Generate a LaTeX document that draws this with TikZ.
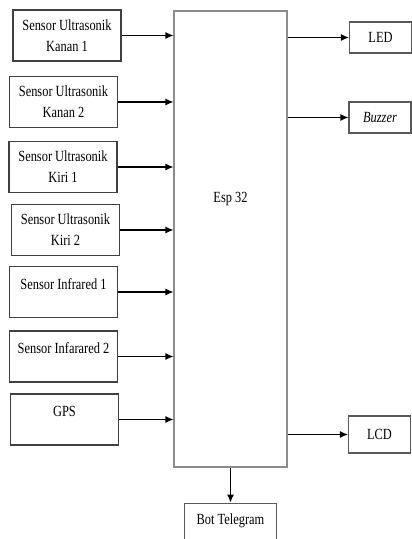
\documentclass[tikz,border=0pt]{standalone}
\usepackage{fontspec}
\setmainfont{Liberation Serif}[FakeStretch=0.8]
\usetikzlibrary{positioning,arrows.meta}

\begin{document}
\begin{tikzpicture}[
		x=1pt, y=-1pt,
		font=\fontsize{15.5}{21}\selectfont,
		box/.style={draw=black!75, line width=1.1pt, minimum width=108pt, minimum height=51pt, align=center, inner sep=1pt},
		topbox/.style={box, text depth=16pt},
		outbox/.style={draw=black!65, line width=1.1pt, minimum width=62pt, minimum height=31pt, align=center, inner sep=1pt},
		arrow/.style={-{Latex[length=8pt,width=7pt]}, line width=1.1pt}
		]
		\useasboundingbox (0,0) rectangle (412,539);
		
		% sensors
		\node[box] (kanan1) at (67,35.5) {Sensor Ultrasonik\\ Kanan 1};
		\node[box] (kanan2) at (63.5,102) {Sensor Ultrasonik\\ Kanan 2};
		\node[box] (kiri1) at (63,167) {Sensor Ultrasonik\\ Kiri 1};
		\node[box] (kiri2) at (65.5,230) {Sensor Ultrasonik\\ Kiri 2};
		\node[topbox] (ir1) at (63.5,292) {Sensor Infrared 1};
		\node[topbox] (ir2) at (63.5,356.5) {Sensor Infarared 2};
		\node[topbox] (gps) at (64.5,419.5) {GPS};
		
		% controller
		\node[draw=black!45, line width=1.1pt, minimum width=113pt, minimum height=456pt, text depth=84pt] (esp) at (230.5,239) {Esp 32};
		
		% outputs
		\node[outbox] (led) at (380.5,37.5) {LED};
		\node[outbox] (buzzer) at (380,117.5) {\textit{Buzzer}};
		\node[outbox, minimum height=37pt] (lcd) at (379.5,434.5) {LCD};
		\node[outbox, below=35pt of esp, minimum width=92pt, minimum height=50pt, text depth=18pt] (bot) {Bot Telegram};
		
		\foreach \s in {kanan1,kanan2,kiri1,kiri2,ir1,ir2,gps}
		\draw[arrow] (\s.east) -- (\s.east -| esp.west);
		
		\foreach \o in {led,buzzer,lcd}
		\draw[arrow] (esp.east |- \o.west) -- (\o.west);
		
		\draw[arrow] (esp.south) -- (bot.north);
		
	\end{tikzpicture}
\end{document}
